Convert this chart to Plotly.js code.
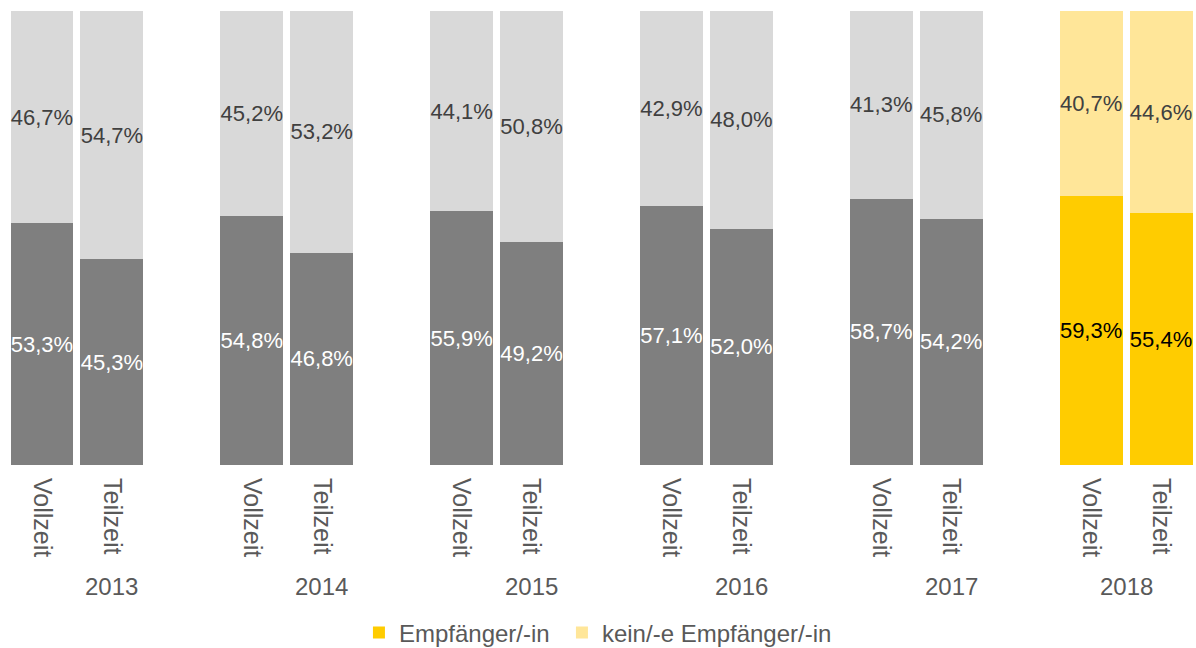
<!DOCTYPE html>
<html>
<head>
<meta charset="utf-8">
<script src="https://cdn.plot.ly/plotly-3.0.1.min.js"></script>
<style>html,body{margin:0;padding:0;background:#fff;}#chart{width:1196px;height:648px;}</style>
</head>
<body>
<div id="chart"></div>
<script>
// ---- data ----
const years = ['2013', '2014', '2015', '2016', '2017', '2018'];
const types = ['Vollzeit', 'Teilzeit'];
const empfaengerVollzeit = [53.3, 54.8, 55.9, 57.1, 58.7, 59.3];
const empfaengerTeilzeit = [45.3, 46.8, 49.2, 52.0, 54.2, 55.4];
const keinVollzeit = [46.7, 45.2, 44.1, 42.9, 41.3, 40.7];
const keinTeilzeit = [54.7, 53.2, 50.8, 48.0, 45.8, 44.6];
const seriesNames = ['Empfänger/-in', 'kein/-e Empfänger/-in'];
const highlightYear = '2018';

// ---- layout of slots: each year gets Vollzeit, Teilzeit and a spacer slot (none after the last) ----
const slotsPerGroup = 3;
function slotOf(g, t) { return g * slotsPerGroup + t; }
const lastSlot = slotOf(years.length - 1, types.length - 1);

function collect(filterFn) {
  const xs = [], bottom = [], top = [];
  years.forEach((yr, g) => {
    if (!filterFn(yr)) return;
    [[empfaengerVollzeit, keinVollzeit], [empfaengerTeilzeit, keinTeilzeit]].forEach((pair, t) => {
      xs.push(slotOf(g, t));
      bottom.push(pair[0][g]);
      top.push(pair[1][g]);
    });
  });
  return {xs, bottom, top};
}
const normal = collect(y => y !== highlightYear);
const hl = collect(y => y === highlightYear);

const labelFont = {family: 'Liberation Sans, Arial, sans-serif', size: 22};
function barTrace(xs, ys, name, color, textColor, showlegend, legendwidth) {
  const tr = {
    type: 'bar', x: xs, y: ys, name: name,
    marker: {color: color, line: {width: 0}},
    texttemplate: '%{y:.1f}%', textposition: 'inside', insidetextanchor: 'middle',
    textangle: 0, constraintext: 'none',
    textfont: Object.assign({}, labelFont, {color: textColor}),
    showlegend: showlegend, hoverinfo: 'skip'
  };
  if (legendwidth) tr.legendwidth = legendwidth;
  return tr;
}

const traces = [
  barTrace(normal.xs, normal.bottom, seriesNames[0], '#7f7f7f', '#ffffff', false),
  barTrace(hl.xs, hl.bottom, seriesNames[0], '#ffcc00', '#000000', true, 158),
  barTrace(normal.xs, normal.top, seriesNames[1], '#d9d9d9', '#404040', false),
  barTrace(hl.xs, hl.top, seriesNames[1], '#ffe699', '#404040', true, 260)
];

const tickvals = [], ticktext = [];
years.forEach((yr, g) => types.forEach((tp, t) => { tickvals.push(slotOf(g, t)); ticktext.push(tp); }));

const axisFont = {family: 'Liberation Sans, Arial, sans-serif', size: 24, color: '#595959'};
const tickFont = Object.assign({}, axisFont, {size: 25});

const annotations = years.map((yr, g) => {
  const slots = [];
  for (let s = slotOf(g, 0); s < slotOf(g, 0) + slotsPerGroup && s <= lastSlot; s++) slots.push(s);
  const center = slots.reduce((a, b) => a + b, 0) / slots.length;
  return {
    x: center, xref: 'x', y: -0.2687, yref: 'paper', yanchor: 'middle', xanchor: 'center',
    text: yr, showarrow: false, font: axisFont
  };
});

const layout = {
  width: 1196, height: 648,
  margin: {l: 7, r: 0, t: 11, b: 183, autoexpand: false},
  paper_bgcolor: '#ffffff', plot_bgcolor: '#ffffff',
  barmode: 'stack', bargap: 0.1,
  separators: ',.',
  showlegend: true,
  legend: {
    orientation: 'h', x: 0.296, xanchor: 'left', y: -0.37, yanchor: 'middle',
    font: axisFont, bgcolor: 'rgba(0,0,0,0)', traceorder: 'normal'
  },
  xaxis: {
    type: 'linear', range: [-0.5, lastSlot + 0.5], tickmode: 'array', tickvals: tickvals, ticktext: ticktext,
    tickangle: 90, tickfont: tickFont, showgrid: false, zeroline: false, showline: false, ticks: '',
    ticklabelstandoff: 12, automargin: false, fixedrange: true
  },
  yaxis: {range: [0, 100], visible: false, showgrid: false, zeroline: false, fixedrange: true},
  annotations: annotations,
  hovermode: false
};

Plotly.newPlot('chart', traces, layout, {displayModeBar: false, staticPlot: true});
</script>
</body>
</html>
